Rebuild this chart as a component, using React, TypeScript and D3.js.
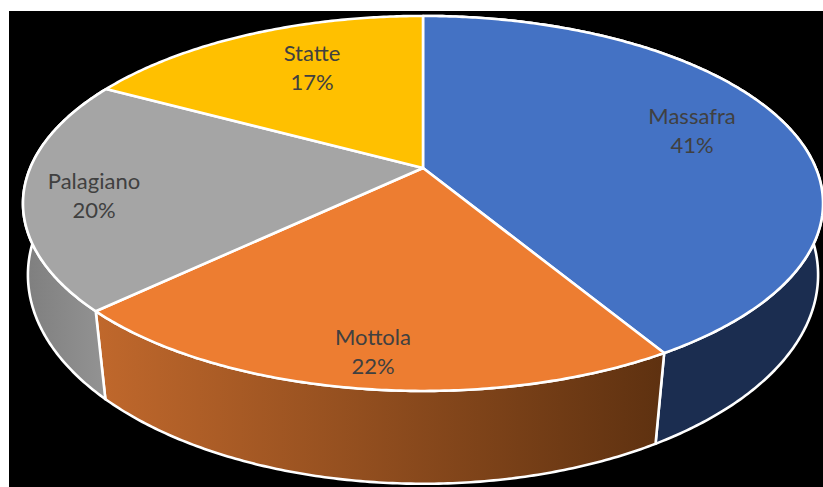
import React from "react";
import * as d3 from "d3";

const towns = ["Massafra", "Mottola", "Palagiano", "Statte"];
const shares = [41.4, 21.5, 20, 17.1];
const shareLabels = ["41%", "22%", "20%", "17%"];
const topColors = ["#4472C4", "#ED7D31", "#A5A5A5", "#FFC000"];
const wallStops = [
  ["#1B2D50", "#1B2D50"],
  ["#C0682C", "#5E3110"],
  ["#7E7E7E", "#939393"],
];
const labelSpots: [number, number][] = [
  [692, 117],
  [373, 338],
  [94, 182],
  [312, 54],
];

const W = 823, H = 487;
// top face and bottom rim each get their own perspective numbers
const upper = { x: 423, y: 168, k: 0.189, a: 392.8, b: 180.8 };
const lower = { x: 423, y: 241.5, k: 0.16, a: 390, b: 203.5 };

function project(t: number, p = upper): [number, number] {
  const u = Math.sin(t), v = Math.cos(t);
  const w = 1 + p.k * v;
  return [p.x + (p.a * u) / w, p.y - (p.b * v) / w];
}

function sweep(a: number, b: number, p = upper) {
  const n = Math.ceil(Math.abs(b - a) / 0.01);
  return d3.range(n + 1).map((i) => project(a + ((b - a) * i) / n, p));
}

export default function App() {
  const arcs = d3.pie<number>().sort(null)(shares);
  const line = d3.line();

  return (
    <svg
      width={W}
      height={H}
      style={{ position: "absolute", left: 0, top: 0, background: "#fff" }}
    >
      <defs>
        {wallStops.map((stops, i) => {
          const xs = sweep(arcs[i].startAngle, arcs[i].endAngle).map((p) => p[0]);
          return (
            <linearGradient
              key={i}
              id={`wall${i}`}
              gradientUnits="userSpaceOnUse"
              x1={d3.min(xs)}
              x2={d3.max(xs)}
              y1={0}
              y2={0}
            >
              <stop offset="0" stopColor={stops[0]} />
              <stop offset="1" stopColor={stops[1]} />
            </linearGradient>
          );
        })}
      </defs>
      <rect x={9} y={11} width={W - 9} height={H - 11} fill="#000" />

      {wallStops.map((_, i) => {
        const s = arcs[i];
        const pts = [
          ...sweep(s.startAngle, s.endAngle),
          ...sweep(s.endAngle, s.startAngle, lower),
        ];
        return (
          <path
            key={i}
            d={line(pts) + "Z"}
            fill={`url(#wall${i})`}
            stroke="#fff"
            strokeWidth={2.6}
            strokeLinejoin="round"
          />
        );
      })}

      {arcs.map((s, i) => (
        <path
          key={i}
          d={line([[upper.x, upper.y], ...sweep(s.startAngle, s.endAngle)]) + "Z"}
          fill={topColors[i]}
          stroke="#fff"
          strokeWidth={2.6}
          strokeLinejoin="round"
        />
      ))}

      {towns.map((t, i) => (
        <text
          key={t}
          textAnchor="middle"
          fontFamily="Lato, 'Open Sans', sans-serif"
          fontSize={22}
          fill="#404040"
        >
          <tspan x={labelSpots[i][0]} y={labelSpots[i][1] + 7}>{t}</tspan>
          <tspan x={labelSpots[i][0]} y={labelSpots[i][1] + 36}>{shareLabels[i]}</tspan>
        </text>
      ))}
    </svg>
  );
}
